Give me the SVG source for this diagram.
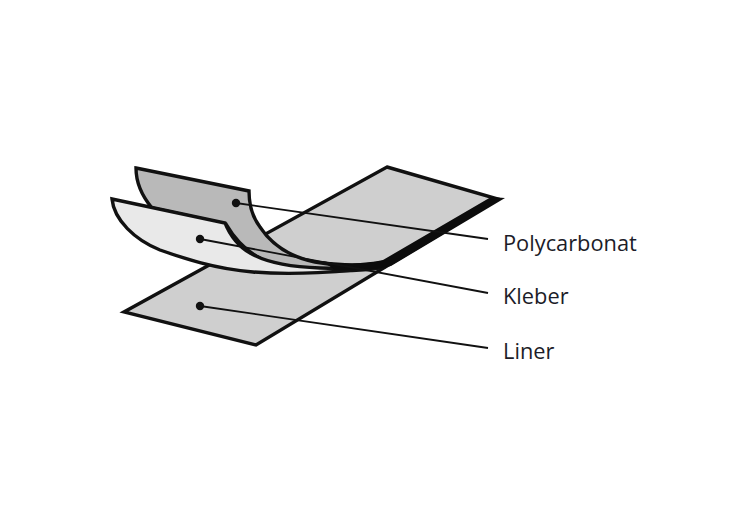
<svg xmlns="http://www.w3.org/2000/svg" width="750" height="520" viewBox="0 0 750 520">
<style>
.s{stroke:#111;stroke-width:3.4;stroke-linejoin:miter}
.l{stroke:#111;stroke-width:1.8;fill:none}
.d{fill:#111}
text{font-family:"Open Sans","Noto Sans",sans-serif;font-size:21.8px;fill:#1c1c28}
</style>
<rect width="750" height="520" fill="#fff"/>
<g id="liner">
<path class="s" fill="#cfcfcf" d="M387 167L498 199L256 345L124 312Z"/>
</g>
<g id="polycarbonat">
<path class="s" fill="#b9b9b9" d="M136 168L249 191C249 205 253 218 260 227C272 245 290 257 315 262C340 267 365 266 386 262L384 267C360 272 320 272 290 268C262 264 240 248 226 224L152 208C142 196 136 182 136 168Z"/>
</g>
<g id="kleber">
<path class="s" fill="#e9e9e9" d="M112 199L225 223C230 236 240 248 250 253C265 262 290 267 320 268C345 269 365 268 384 265C345 273 290 275 253 272C215 269 183 258 160 250C135 240 114 220 112 199Z"/>
<path fill="#0c0c0c" d="M505 198L491 197L383 260C365 264 345 264 322 261L335 270C355 271 375 270 391 266Z"/>
</g>
<g id="connectors">
<path class="l" d="M236 203L488 239"/>
<path class="l" d="M200 239L488 293"/>
<path class="l" d="M200 306L488 348"/>
<circle class="d" cx="236" cy="203" r="4.2"/>
<circle class="d" cx="200" cy="239" r="4.2"/>
<circle class="d" cx="200" cy="306" r="4.2"/>
</g>
<text x="503" y="250.5">Polycarbonat</text>
<text x="503" y="303.5">Kleber</text>
<text x="503" y="358.5">Liner</text>
</svg>
